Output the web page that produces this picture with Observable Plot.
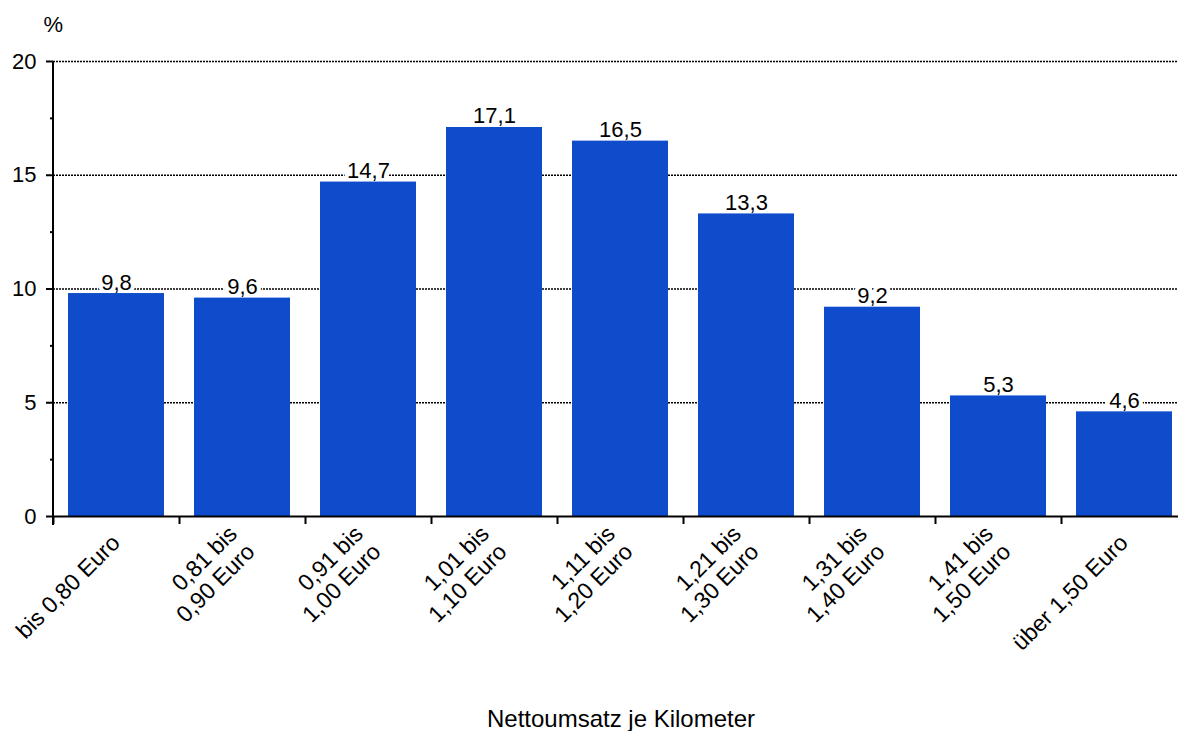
<!DOCTYPE html>
<html>
<head>
<meta charset="utf-8">
<script src="https://cdn.jsdelivr.net/npm/d3@7"></script>
<script src="https://cdn.jsdelivr.net/npm/@observablehq/plot@0.6"></script>
<style>
  html, body { margin: 0; padding: 0; background: white; overflow: hidden; }
  #chart svg { display: block; overflow: hidden; }
</style>
</head>
<body>
<div id="chart"></div>
<script>
const categories = [
  "bis 0,80 Euro",
  "0,81 bis\n0,90 Euro",
  "0,91 bis\n1,00 Euro",
  "1,01 bis\n1,10 Euro",
  "1,11 bis\n1,20 Euro",
  "1,21 bis\n1,30 Euro",
  "1,31 bis\n1,40 Euro",
  "1,41 bis\n1,50 Euro",
  "über 1,50 Euro"
];
const values = [9.8, 9.6, 14.7, 17.1, 16.5, 13.3, 9.2, 5.3, 4.6];
const majorTicks = [0, 5, 10, 15, 20];
const minorTicks = [2.5, 7.5, 12.5, 17.5];
const gridTicks = [5, 10, 15, 20];
const yUnit = "%";
const xTitle = "Nettoumsatz je Kilometer";

const data = categories.map((c, i) => ({category: c, value: values[i]}));
const fmt = d3.format(".1f");
const de = v => fmt(v).replace(".", ",");

const W = 1178, H = 731;
const left = 53, right = 1187;
const step = (right - left) / categories.length;

const chart = Plot.plot({
  width: W,
  height: H,
  marginLeft: left,
  marginRight: 0,
  marginTop: 61,
  marginBottom: 215,
  style: {fontFamily: "'Liberation Sans', Arial, sans-serif", fontSize: "22px", color: "black", background: "white"},
  x: {domain: categories, range: [left, right], paddingInner: 0.24, paddingOuter: 0.12, axis: null},
  y: {domain: [0, 20], axis: null},
  marks: [
    Plot.gridY(gridTicks, {stroke: "black", strokeOpacity: 1, strokeWidth: 1.3, strokeDasharray: "2,1"}),
    // white box behind value labels (drawn under the bars so it only masks gridlines)
    Plot.text(data, {x: "category", y: "value", text: d => de(d.value), lineAnchor: "bottom", dy: -4,
      fill: "white", stroke: "white", strokeWidth: 8, strokeLinejoin: "miter", fontSize: 22}),
    Plot.barY(data, {x: "category", y: "value", fill: "#0e4ccb"}),
    Plot.text(data, {x: "category", y: "value", text: d => de(d.value), lineAnchor: "bottom", dy: -4,
      fill: "black", fontSize: 22}),
    // x axis line & boundary ticks
    Plot.ruleY([0], {stroke: "black", strokeWidth: 2}),
    Plot.ruleX(categories, {x: d => d, dx: -step / 2, y1: () => 0, y2: () => 0, stroke: "black", strokeWidth: 2, insetBottom: -8}),
    // x tick labels
    Plot.text(categories, {x: d => d, frameAnchor: "bottom", rotate: -45, textAnchor: "end", lineAnchor: "middle",
      dy: 22, dx: -1, fontSize: 23, fill: "black", lineHeight: 1.1}),
    // y axis
    Plot.axisY({ticks: majorTicks, tickSize: 7, tickPadding: 10, tickFormat: d => String(d), label: null, fontSize: 22, strokeWidth: 2}),
    Plot.axisY({ticks: minorTicks, tickSize: 3, tickFormat: () => "", label: null, strokeWidth: 2}),
    Plot.text([yUnit], {frameAnchor: "top-left", dx: -10, dy: -45, fontSize: 22, fill: "black"}),
    Plot.text([xTitle], {frameAnchor: "bottom", dy: 210, dx: 5, fontSize: 24, fill: "black"})
  ]
});
document.getElementById("chart").appendChild(chart);

// y axis line along the left frame edge
const svg = d3.select(chart);
svg.append("line")
  .attr("x1", left).attr("x2", left)
  .attr("y1", 61).attr("y2", H - 215 + 9)
  .attr("stroke", "black").attr("stroke-width", 2);
</script>
</body>
</html>
